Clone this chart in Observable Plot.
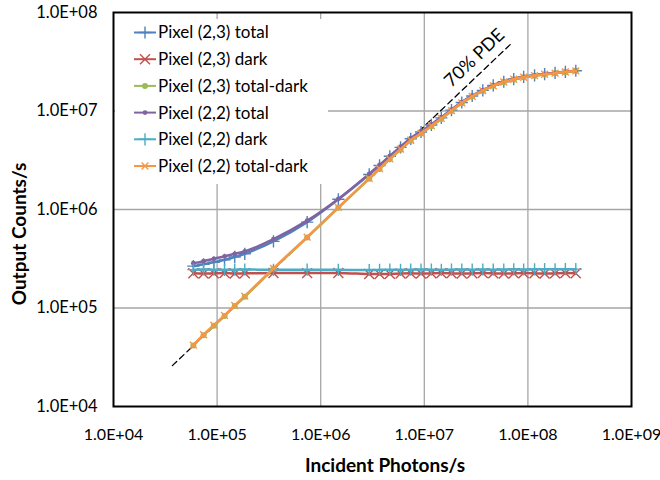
<!DOCTYPE html>
<html><head><meta charset="utf-8">
<script src="https://cdn.jsdelivr.net/npm/d3@7"></script>
<script src="https://cdn.jsdelivr.net/npm/@observablehq/plot@0.6"></script>
<style>
html,body{margin:0;padding:0;background:#fff;}
#chart{width:660px;height:480px;position:relative;}
</style></head><body><div id="chart"></div>
<script>
// Incident photons/s (shared x for all series)
const photons = [5.9e4, 7.4e4, 9.3e4, 1.18e5, 1.48e5, 1.85e5, 3.5e5, 7.4e5, 1.48e6, 2.94e6,
  3.7e6, 4.65e6, 5.9e6, 7.4e6, 9.3e6, 1.17e7, 1.46e7, 1.83e7, 2.3e7, 2.9e7,
  3.67e7, 4.63e7, 5.85e7, 7.3e7, 9.1e7, 1.16e8, 1.45e8, 1.83e8, 2.3e8, 2.9e8];

const total23 = [2.66e5, 2.78e5, 2.91e5, 3.08e5, 3.3e5, 3.55e5, 4.75e5, 7.45e5, 1.27e6, 2.27e6,
  2.8e6, 3.47e6, 4.27e6, 5.22e6, 6.12e6, 7.22e6, 8.52e6, 1.02e7, 1.22e7, 1.42e7,
  1.62e7, 1.82e7, 1.98e7, 2.11e7, 2.22e7, 2.3e7, 2.37e7, 2.44e7, 2.5e7, 2.56e7];
const dark23 = [2.25e5, 2.24e5, 2.25e5, 2.26e5, 2.24e5, 2.25e5, 2.27e5, 2.26e5, 2.27e5, 2.21e5,
  2.21e5, 2.22e5, 2.24e5, 2.25e5, 2.24e5, 2.25e5, 2.26e5, 2.25e5, 2.24e5, 2.25e5,
  2.26e5, 2.25e5, 2.24e5, 2.25e5, 2.26e5, 2.25e5, 2.24e5, 2.25e5, 2.26e5, 2.25e5];
const diff23 = [4.15e4, 5.3e4, 6.6e4, 8.3e4, 1.05e5, 1.3e5, 2.5e5, 5.2e5, 1.04e6, 2.05e6,
  2.58e6, 3.25e6, 4.05e6, 5.0e6, 5.9e6, 7.0e6, 8.3e6, 1.0e7, 1.2e7, 1.4e7,
  1.6e7, 1.8e7, 1.96e7, 2.09e7, 2.2e7, 2.28e7, 2.35e7, 2.42e7, 2.48e7, 2.54e7];
const total22 = [2.85e5, 2.99e5, 3.16e5, 3.34e5, 3.55e5, 3.75e5, 5.0e5, 7.7e5, 1.28e6, 2.3e6,
  2.83e6, 3.5e6, 4.35e6, 5.3e6, 6.2e6, 7.3e6, 8.65e6, 1.03e7, 1.23e7, 1.43e7,
  1.63e7, 1.83e7, 1.99e7, 2.12e7, 2.22e7, 2.31e7, 2.38e7, 2.44e7, 2.51e7, 2.57e7];
const dark22 = [2.45e5, 2.46e5, 2.45e5, 2.44e5, 2.45e5, 2.46e5, 2.44e5, 2.45e5, 2.44e5, 2.43e5,
  2.44e5, 2.45e5, 2.44e5, 2.45e5, 2.46e5, 2.45e5, 2.44e5, 2.45e5, 2.46e5, 2.45e5,
  2.46e5, 2.45e5, 2.46e5, 2.47e5, 2.46e5, 2.47e5, 2.48e5, 2.47e5, 2.48e5, 2.48e5];
const diff22 = [4.2e4, 5.35e4, 6.7e4, 8.4e4, 1.06e5, 1.32e5, 2.52e5, 5.25e5, 1.05e6, 2.07e6,
  2.6e6, 3.27e6, 4.1e6, 5.05e6, 5.95e6, 7.05e6, 8.4e6, 1.01e7, 1.21e7, 1.41e7,
  1.61e7, 1.8e7, 1.97e7, 2.1e7, 2.2e7, 2.29e7, 2.36e7, 2.42e7, 2.49e7, 2.55e7];

const seriesNames = ["Pixel (2,3) total", "Pixel (2,3) dark", "Pixel (2,3) total-dark",
  "Pixel (2,2) total", "Pixel (2,2) dark", "Pixel (2,2) total-dark"];
const seriesValues = [total23, dark23, diff23, total22, dark22, diff22];
const seriesColors = ["#4F81BD", "#C0504D", "#9BBB59", "#8064A2", "#4BACC6", "#F79646"];
const seriesSymbols = ["plus", "times", "circle", "circle", "plus", "times"];
const seriesR = [4, 4.6, 3, 2.4, 4, 3.2];

// 70% PDE reference line
const pdeLine = [{x: 3.7e4, y: 2.6e4}, {x: 6.8e7, y: 4.76e7}];
const pdeLabel = [{x: 3.05e7, y: 3.45e7, text: "70% PDE"}];

const xTicks = [1e4, 1e5, 1e6, 1e7, 1e8, 1e9];
const yTicks = [1e4, 1e5, 1e6, 1e7, 1e8];
const xTitle = "Incident Photons/s";
const yTitle = "Output Counts/s";

const font = "Lato, 'Liberation Sans', sans-serif";
const fmt = d => "1.0E+" + String(Math.round(Math.log10(d))).padStart(2, "0");

const marks = [
  Plot.gridX([1e5, 1e6, 1e7, 1e8], {stroke: "#a6a6a6", strokeOpacity: 1, strokeWidth: 1.3}),
  Plot.gridY([1e5, 1e6, 1e7], {stroke: "#a6a6a6", strokeOpacity: 1, strokeWidth: 1.3}),
  Plot.axisX(xTicks, {tickSize: 0, tickPadding: 22, tickFormat: fmt, fontSize: 16, label: null}),
  Plot.axisY(yTicks, {tickSize: 0, tickPadding: 16, tickFormat: fmt, fontSize: 16.5, label: null}),
  Plot.line(pdeLine, {x: "x", y: "y", stroke: "#000", strokeWidth: 1.3, strokeDasharray: "6,4"}),
  Plot.text(pdeLabel, {x: "x", y: "y", text: "text", rotate: -43.5, fontSize: 18, fill: "#000"})
];
seriesNames.forEach((name, i) => {
  const data = photons.map((x, j) => ({x, y: seriesValues[i][j]}));
  marks.push(Plot.line(data, {x: "x", y: "y", stroke: seriesColors[i], strokeWidth: 2.5, curve: "catmull-rom"}));
  const filled = seriesSymbols[i] === "circle";
  marks.push(Plot.dot(data, {x: "x", y: "y", symbol: seriesSymbols[i], r: seriesR[i],
    fill: filled ? seriesColors[i] : "none", stroke: filled ? "none" : seriesColors[i], strokeWidth: 1.4}));
});
marks.push(Plot.frame({stroke: "#000", strokeWidth: 2}));

const plot = Plot.plot({
  width: 660, height: 480,
  marginLeft: 113, marginRight: 29, marginTop: 12, marginBottom: 74,
  style: {fontFamily: font, fontSize: "16.5px", color: "#000", background: "#fff"},
  x: {type: "log", domain: [1e4, 1e9]},
  y: {type: "log", domain: [1e4, 1e8]},
  marks
});
document.getElementById("chart").appendChild(plot);

// Axis titles and in-plot legend
const svg = d3.select(plot);
svg.append("text").attr("x", 385).attr("y", 472).attr("text-anchor", "middle")
  .attr("font-family", font).attr("font-weight", "bold").attr("font-size", 19).attr("fill", "#000").text(xTitle);
svg.append("text").attr("transform", "translate(26,234) rotate(-90)").attr("text-anchor", "middle")
  .attr("font-family", font).attr("font-weight", "bold").attr("font-size", 19).attr("fill", "#000").text(yTitle);

const symMap = {plus: d3.symbolPlus, times: d3.symbolTimes, circle: d3.symbolCircle};
const lg = svg.append("g").attr("text-anchor", "start");
lg.append("rect").attr("x", 115).attr("y", 19).attr("width", 213).attr("height", 165).attr("fill", "#fff");
seriesNames.forEach((name, i) => {
  const y = 32.5 + i * 26.7;
  lg.append("line").attr("x1", 134).attr("x2", 156).attr("y1", y).attr("y2", y)
    .attr("stroke", seriesColors[i]).attr("stroke-width", 2);
  const filled = seriesSymbols[i] === "circle";
  lg.append("path").attr("transform", `translate(145,${y})`)
    .attr("d", d3.symbol(symMap[seriesSymbols[i]], Math.PI * seriesR[i] * seriesR[i])())
    .attr("fill", filled ? seriesColors[i] : "none").attr("stroke", filled ? "none" : seriesColors[i]).attr("stroke-width", 1.4);
  lg.append("text").attr("x", 158).attr("y", y).attr("dy", "0.35em").attr("text-anchor", "start")
    .attr("font-family", font).attr("font-size", 17).attr("fill", "#000").text(name);
});
</script></body></html>
